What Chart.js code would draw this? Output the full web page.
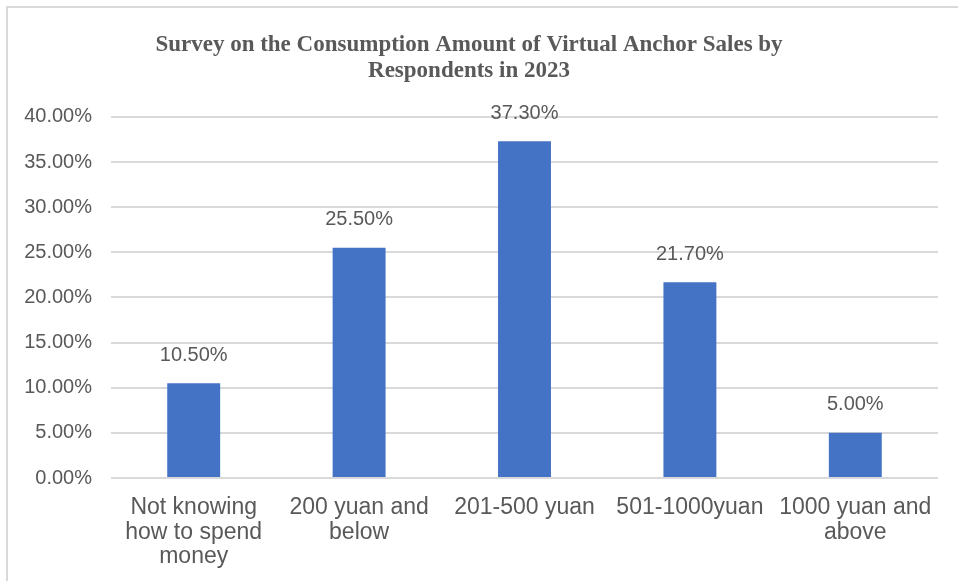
<!DOCTYPE html>
<html>
<head>
<meta charset="utf-8">
<script src="https://cdn.jsdelivr.net/npm/chart.js@4"></script>
<style>
html,body{margin:0;padding:0;background:#fff;}
#wrap{width:958px;height:581px;position:relative;}
</style>
</head>
<body>
<div id="wrap"><canvas id="c" width="958" height="581"></canvas></div>
<script>
const categories = [
  ["Not knowing", "how to spend", "money"],
  ["200 yuan and", "below"],
  "201-500 yuan",
  "501-1000yuan",
  ["1000 yuan and", "above"]
];
const shareValues = [10.5, 25.5, 37.3, 21.7, 5.0];
const titleLines = ["Survey on the Consumption Amount of Virtual Anchor Sales by", "Respondents in 2023"];
const yMin = 0, yMax = 40, yStep = 5;

const textColor = '#595959';
const sansFont = "'Liberation Sans', Arial, sans-serif";

const borderPlugin = {
  id: 'frame',
  beforeDraw(chart) {
    const ctx = chart.ctx;
    ctx.save();
    ctx.fillStyle = '#fff';
    ctx.fillRect(0, 0, chart.width, chart.height);
    ctx.strokeStyle = '#d9d9d9';
    ctx.lineWidth = 2;
    ctx.beginPath();
    ctx.moveTo(7, chart.height);
    ctx.lineTo(7, 7);
    ctx.lineTo(chart.width, 7);
    ctx.stroke();
    ctx.restore();
  }
};

const valueLabels = {
  id: 'valueLabels',
  afterDatasetsDraw(chart) {
    const ctx = chart.ctx;
    const meta = chart.getDatasetMeta(0);
    ctx.save();
    ctx.font = "20px " + sansFont;
    ctx.fillStyle = textColor;
    ctx.textAlign = 'center';
    ctx.textBaseline = 'middle';
    meta.data.forEach((bar, i) => {
      const v = chart.data.datasets[0].data[i];
      ctx.fillText(v.toFixed(2) + '%', bar.x, bar.y - 28);
    });
    ctx.restore();
  }
};

new Chart(document.getElementById('c'), {
  type: 'bar',
  data: {
    labels: categories,
    datasets: [{
      data: shareValues,
      backgroundColor: '#4472C4',
      borderWidth: 0,
      categoryPercentage: 1.0,
      barPercentage: 0.32
    }]
  },
  options: {
    responsive: false,
    animation: false,
    devicePixelRatio: 1,
    layout: { padding: { left: 0, right: 20, top: 0, bottom: 13 } },
    plugins: {
      legend: { display: false },
      tooltip: { enabled: false },
      title: {
        display: true,
        text: titleLines,
        color: textColor,
        font: { family: "'Liberation Serif', 'Times New Roman', serif", size: 23, weight: 'bold', lineHeight: 1.13 },
        padding: { top: 32, bottom: 33 }
      }
    },
    scales: {
      x: {
        afterFit(scale) { scale.height = 90; },
        grid: { display: false, drawTicks: false },
        border: { display: false },
        ticks: {
          color: textColor,
          font: { family: sansFont, size: 23, lineHeight: 1.05 },
          padding: 18,
          maxRotation: 0,
          autoSkip: false
        }
      },
      y: {
        min: yMin,
        max: yMax,
        afterFit(scale) { scale.width = 111; },
        grid: { color: '#d9d9d9', lineWidth: 2, drawTicks: false },
        border: { display: false },
        ticks: {
          stepSize: yStep,
          color: textColor,
          padding: 19,
          font: { family: sansFont, size: 20 },
          callback: v => v.toFixed(2) + '%'
        }
      }
    }
  },
  plugins: [borderPlugin, valueLabels]
});
</script>
</body>
</html>
